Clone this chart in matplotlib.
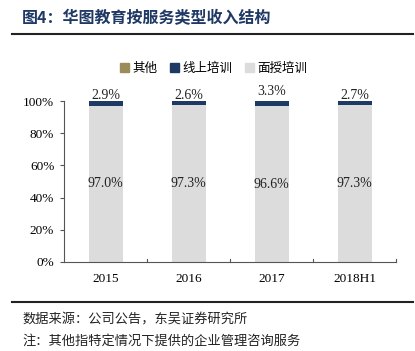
import matplotlib
matplotlib.use("Agg")
import matplotlib.pyplot as plt
from matplotlib.lines import Line2D
from matplotlib.patches import Patch

# ==========================================
# Data
# ==========================================
years = ["2015", "2016", "2017", "2018H1"]
face_share = [97.0, 97.3, 96.6, 97.3]      # 面授培训
online_share = [2.9, 2.6, 3.3, 2.7]        # 线上培训
other_share = [0.1, 0.1, 0.1, 0.0]         # 其他
y_ticks = [0, 20, 40, 60, 80, 100]

CJK = ["Noto Sans CJK SC", "DejaVu Sans"]
SERIF = "Liberation Serif"
NAVY = "#1f3864"
C_FACE = "#dcdcdc"
C_ONLINE = "#1c3a64"
C_OTHER = "#9b8c5a"

# ==========================================
# Figure
# ==========================================
fig = plt.figure(figsize=(4.15, 3.51), dpi=100)
ax = fig.add_axes([64 / 415, 1 - 262 / 351, (396 - 64) / 415, (262 - 101) / 351])

x = list(range(len(years)))
width = 34 / 83
bottom_online = face_share
bottom_other = [f + o for f, o in zip(face_share, online_share)]

ax.bar(x, face_share, width, color=C_FACE, label="面授培训")
ax.bar(x, online_share, width, bottom=bottom_online, color=C_ONLINE, label="线上培训")
ax.bar(x, other_share, width, bottom=bottom_other, color=C_OTHER, label="其他")

for i in x:
    ax.text(i, face_share[i] / 2, f"{face_share[i]:.1f}%", ha="center", va="center",
            fontsize=10, family=SERIF, color="#222222")
    top_y = 106.2 if years[i] == "2017" else 103.7
    ax.text(i, top_y, f"{online_share[i]:.1f}%", ha="center", va="center",
            fontsize=10, family=SERIF, color="#222222")

ax.set_xlim(-0.5, len(years) - 0.5)
ax.set_ylim(0, 100)
ax.set_yticks(y_ticks)
ax.set_yticklabels([f"{t}%" for t in y_ticks], family=SERIF, fontsize=9.5)
ax.set_xticks(x)
ax.set_xticklabels(years, family=SERIF, fontsize=9.5)
ax.tick_params(axis="x", length=0, pad=8)
ax.tick_params(axis="y", length=3, direction="out", pad=4, color="#555555")
for b in [0.5, 1.5, 2.5, 3.5]:
    ax.plot([b, b], [0, 1.6], color="#555555", lw=0.8, clip_on=False)

for s in ["top", "right"]:
    ax.spines[s].set_visible(False)
for s in ["left", "bottom"]:
    ax.spines[s].set_color("#555555")
    ax.spines[s].set_linewidth(0.8)

# legend
handles = [Patch(color=C_OTHER), Patch(color=C_ONLINE), Patch(color=C_FACE)]
fig.legend(handles, ["其他", "线上培训", "面授培训"], loc="center",
           bbox_to_anchor=(0.515, 1 - 68 / 351), ncol=3, frameon=False,
           prop={"family": CJK, "size": 9}, handlelength=0.7, handleheight=0.7,
           handletextpad=0.3, columnspacing=1.0)

# title and rules
fig.text(22 / 415, 1 - 18 / 351, "图4：华图教育按服务类型收入结构", family=CJK,
         fontsize=11.5, fontweight="bold", color=NAVY, va="center", ha="left")
fig.add_artist(Line2D([12 / 415, 413 / 415], [1 - 34 / 351] * 2, color="#222222", lw=1.5))
fig.add_artist(Line2D([12 / 415, 413 / 415], [1 - 302 / 351] * 2, color="#222222", lw=1.5))

fig.text(22 / 415, 1 - 320 / 351, "数据来源：公司公告，东吴证券研究所", family=CJK,
         fontsize=9.5, va="center", ha="left", color="#222222")
fig.text(22 / 415, 1 - 341 / 351, "注：其他指特定情况下提供的企业管理咨询服务", family=CJK,
         fontsize=9.5, va="center", ha="left", color="#222222")

fig.savefig("out.png", dpi=100)
